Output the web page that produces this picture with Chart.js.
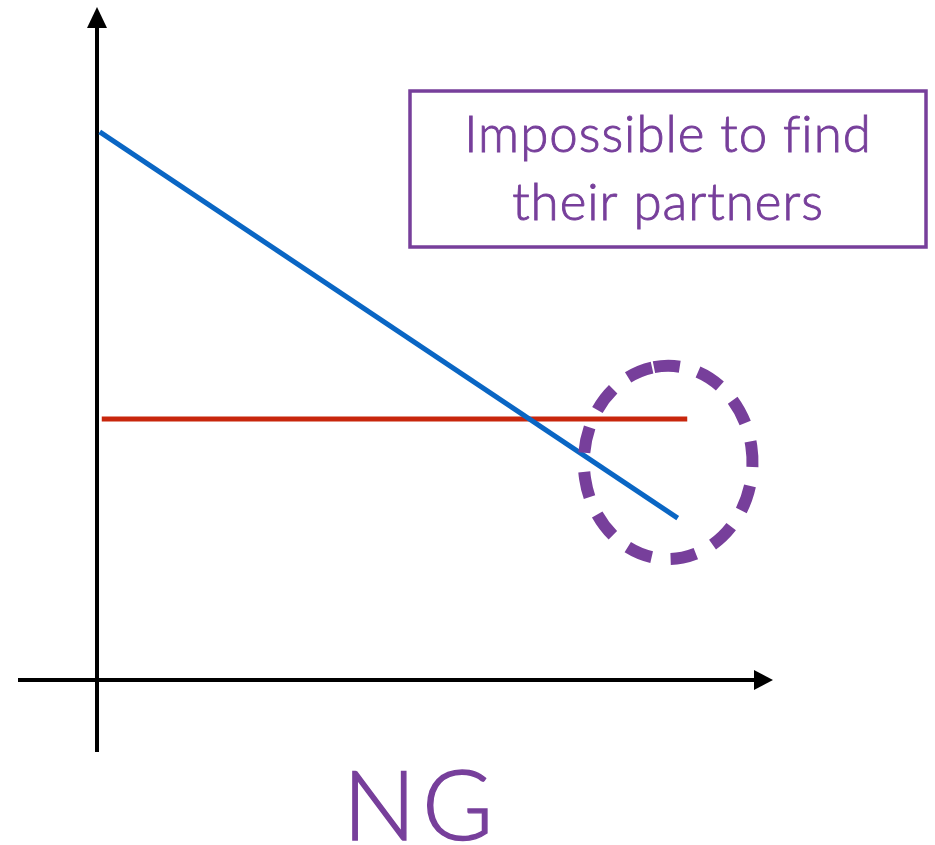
<!DOCTYPE html>
<html>
<head>
<meta charset="utf-8">
<script src="https://cdn.jsdelivr.net/npm/chart.js@4"></script>
<style>
  html, body { margin: 0; padding: 0; background: #fff; }
  #wrap { width: 935px; height: 845px; }
</style>
</head>
<body>
<div id="wrap"><canvas id="ngChart" width="935" height="845"></canvas></div>
<script>
// values in abstract units (origin = where the axes cross)
const blueX = [0.04, 8.54];
const blueY = [8.06, 2.38];
const redX = [0.07, 8.68];
const redY = [3.84, 3.84];
// dashed circle round the crossing region: centre and radii
const circleCenter = [8.4, 3.2];
const circleRadius = [1.24, 1.42];
const boxLines = ['Impossible to find', 'their partners'];
const axisLabel = 'NG';

const PURPLE = '#773f9b';
const toPoints = (xs, ys) => xs.map((x, i) => ({ x: x, y: ys[i] }));

// light font with a thin outline, a bit heavier than Lato Light
const drawText = (ctx, text, x, y, outline) => {
    ctx.fillText(text, x, y);
    ctx.lineWidth = outline;
    ctx.strokeText(text, x, y);
};

const axesPlugin = {
    id: 'axesArrows',
    beforeDatasetsDraw(chart) {
        const ctx = chart.ctx;
        const xs = chart.scales.x, ys = chart.scales.y;
        const ox = xs.getPixelForValue(0), oy = ys.getPixelForValue(0);
        ctx.save();
        ctx.strokeStyle = '#000';
        ctx.fillStyle = '#000';
        ctx.lineWidth = 4;
        // y axis
        ctx.beginPath();
        ctx.moveTo(ox, oy + 72);
        ctx.lineTo(ox, 26);
        ctx.stroke();
        ctx.beginPath();
        ctx.moveTo(ox, 7);
        ctx.lineTo(ox - 10, 28);
        ctx.lineTo(ox + 10, 28);
        ctx.closePath();
        ctx.fill();
        // x axis
        ctx.beginPath();
        ctx.moveTo(18, oy);
        ctx.lineTo(756, oy);
        ctx.stroke();
        ctx.beginPath();
        ctx.moveTo(773, oy);
        ctx.lineTo(754, oy - 10);
        ctx.lineTo(754, oy + 10);
        ctx.closePath();
        ctx.fill();
        ctx.restore();
    },
    afterDatasetsDraw(chart) {
        const ctx = chart.ctx;
        const xs = chart.scales.x, ys = chart.scales.y;
        ctx.save();
        // dashed ellipse
        const cx = xs.getPixelForValue(circleCenter[0]);
        const cy = ys.getPixelForValue(circleCenter[1]);
        const rx = xs.getPixelForValue(circleRadius[0]) - xs.getPixelForValue(0);
        const ry = ys.getPixelForValue(0) - ys.getPixelForValue(circleRadius[1]);
        ctx.strokeStyle = PURPLE;
        ctx.lineWidth = 12;
        ctx.setLineDash([26, 19]);
        ctx.beginPath();
        ctx.ellipse(cx, cy, rx, ry, 0, -Math.PI / 2 - 0.17, Math.PI * 1.5 - 0.17);
        ctx.stroke();
        ctx.setLineDash([]);

        // annotation box
        ctx.lineWidth = 3.5;
        ctx.strokeRect(410, 91, 516, 156);
        ctx.fillStyle = PURPLE;
        ctx.textAlign = 'center';
        ctx.textBaseline = 'alphabetic';
        ctx.font = '300 51px Lato';
        ctx.letterSpacing = '1px';
        drawText(ctx, boxLines[0], 668, 152, 0.9);
        drawText(ctx, boxLines[1], 668, 220, 0.9);

        // bottom label
        ctx.font = '300 97px Lato';
        ctx.letterSpacing = '6px';
        drawText(ctx, axisLabel, 421, 840, 1.4);
        ctx.restore();
    }
};

const canvasContext = document.getElementById('ngChart').getContext('2d');
const ngChart = new Chart(canvasContext, {
    type: 'scatter',
    data: {
        datasets: [{
            data: toPoints(blueX, blueY),
            showLine: true,
            borderColor: '#0a66c4',
            borderWidth: 5,
            pointRadius: 0,
            borderCapStyle: 'butt'
        }, {
            data: toPoints(redX, redY),
            showLine: true,
            borderColor: '#c8260c',
            borderWidth: 5,
            pointRadius: 0,
            borderCapStyle: 'butt'
        }]
    },
    options: {
        responsive: false,
        animation: false,
        layout: { padding: { left: 97, right: 158, top: 0, bottom: 165 } },
        plugins: { legend: { display: false }, tooltip: { enabled: false } },
        scales: {
            x: { type: 'linear', min: 0, max: 10, display: false },
            y: { type: 'linear', min: 0, max: 10, display: false }
        }
    },
    plugins: [axesPlugin]
});
</script>
</body>
</html>
